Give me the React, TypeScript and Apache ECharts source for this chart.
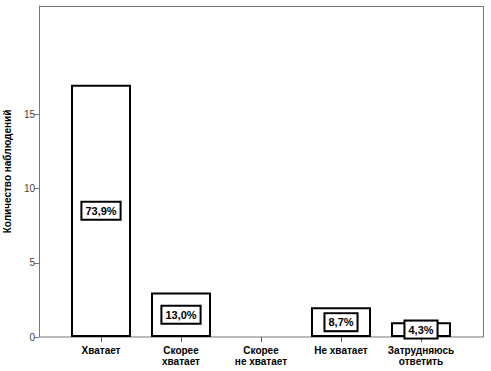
import React, { useEffect, useRef } from "react";
import * as echarts from "echarts";

const categories = ["Хватает", "Скорее\nхватает", "Скорее\nне хватает", "Не хватает", "Затрудняюсь\nответить"];
const counts = [17, 3, 0, 2, 1];
const yTicks = [0, 5, 10, 15];

export default function App() {
  const ref = useRef<HTMLDivElement>(null);
  useEffect(() => {
    document.body.style.margin = "0";
    if (!ref.current) return;
    const chart = echarts.init(ref.current, undefined, { renderer: "svg" });
    const total = counts.reduce((a, b) => a + b, 0);
    const data = counts.map((v) => (v > 0 ? v : "-"));
    chart.setOption({
      animation: false,
      grid: { left: 61, right: 30, top: 6, bottom: 34, outerBoundsMode: "none", containLabel: false },
      graphic: [
        {
          type: "rect",
          shape: { x: 39.5, y: 6.5, width: 444, height: 330.5 },
          style: { fill: "none", stroke: "#777", lineWidth: 1 },
          silent: true,
          z: -1,
        },
      ],
      xAxis: {
        type: "category",
        data: categories,
        axisLine: { show: false },
        axisTick: { show: true, alignWithLabel: true, length: 5, lineStyle: { color: "#555" } },
        axisLabel: {
          color: "#000",
          fontFamily: "Liberation Sans, Arial, sans-serif",
          fontWeight: "bold",
          fontSize: 10,
          lineHeight: 11,
          margin: 8,
          interval: 0,
        },
      },
      yAxis: {
        type: "value",
        min: 0,
        max: 22.3,
        offset: 22,
        name: "Количество наблюдений",
        nameLocation: "middle",
        nameGap: 23,
        nameTextStyle: {
          color: "#000",
          fontFamily: "Liberation Sans, Arial, sans-serif",
          fontWeight: "bold",
          fontSize: 10,
        },
        splitLine: { show: false },
        axisLine: { show: true, lineStyle: { color: "#777" } },
        axisTick: { show: true, length: 5, customValues: yTicks, lineStyle: { color: "#777" } },
        axisLabel: {
          customValues: yTicks,
          color: "#444",
          fontFamily: "Liberation Sans, Arial, sans-serif",
          fontSize: 10,
          margin: 4,
        },
      },
      series: [
        {
          type: "bar",
          data,
          barWidth: 60,
          itemStyle: { color: "#fff", borderColor: "#000", borderWidth: 2 },
          label: {
            show: true,
            position: "inside",
            formatter: (p: any) => ((p.value / total) * 100).toFixed(1).replace(".", ",") + "%",
            color: "#000",
            fontFamily: "Liberation Sans, Arial, sans-serif",
            fontWeight: "bold",
            fontSize: 11,
            backgroundColor: "#fff",
            borderColor: "#000",
            borderWidth: 2,
            padding: [3, 3, 2, 3],
          },
        },
      ],
    });
    return () => chart.dispose();
  }, []);
  return <div ref={ref} style={{ width: 491, height: 371 }} />;
}
